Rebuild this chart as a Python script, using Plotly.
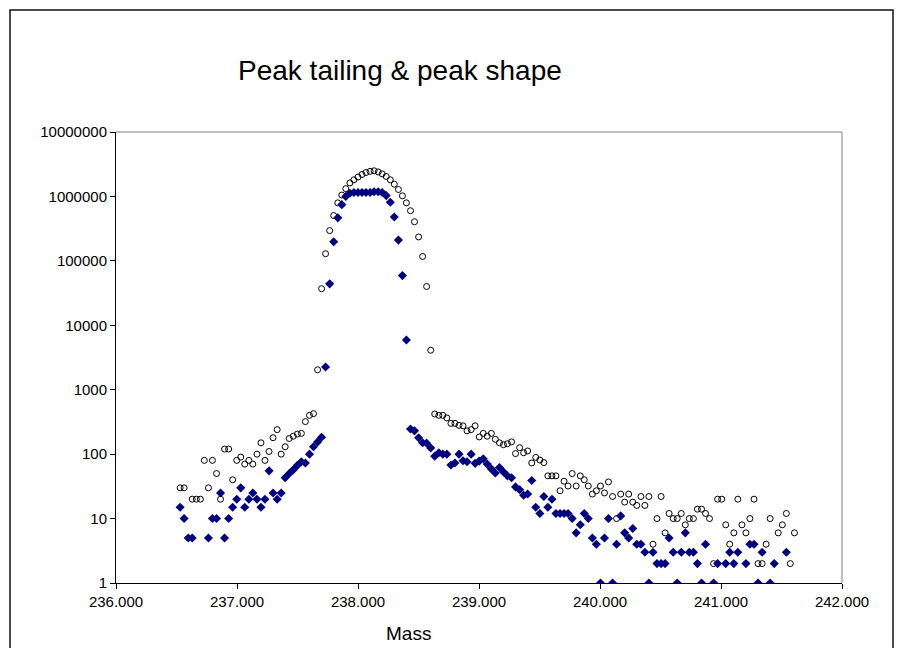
import plotly.graph_objects as go

mass = [
    236.530, 236.563, 236.597, 236.630, 236.664, 236.697, 236.730, 236.764, 236.797, 236.831,
    236.864, 236.897, 236.931, 236.964, 236.998, 237.031, 237.064, 237.098, 237.131, 237.165,
    237.198, 237.231, 237.265, 237.298, 237.332, 237.365, 237.398, 237.432, 237.465, 237.499,
    237.532, 237.565, 237.599, 237.632, 237.666, 237.699, 237.732, 237.766, 237.799, 237.833,
    237.866, 237.899, 237.933, 237.966, 238.000, 238.033, 238.066, 238.100, 238.133, 238.167,
    238.200, 238.233, 238.267, 238.300, 238.334, 238.367, 238.400, 238.434, 238.467, 238.501,
    238.534, 238.567, 238.601, 238.634, 238.668, 238.701, 238.734, 238.768, 238.801, 238.835,
    238.868, 238.901, 238.935, 238.968, 239.002, 239.035, 239.068, 239.102, 239.135, 239.169,
    239.202, 239.235, 239.269, 239.302, 239.336, 239.369, 239.402, 239.436, 239.469, 239.503,
    239.536, 239.569, 239.603, 239.636, 239.670, 239.703, 239.736, 239.770, 239.803, 239.837,
    239.870, 239.903, 239.937, 239.970, 240.004, 240.037, 240.070, 240.104, 240.137, 240.171,
    240.204, 240.237, 240.271, 240.304, 240.338, 240.371, 240.404, 240.438, 240.471, 240.505,
    240.538, 240.571, 240.605, 240.638, 240.672, 240.705, 240.738, 240.772, 240.805, 240.839,
    240.872, 240.905, 240.939, 240.972, 241.006, 241.039, 241.072, 241.106, 241.139, 241.173,
    241.206, 241.239, 241.273, 241.306, 241.340, 241.373, 241.406, 241.440, 241.473, 241.507,
    241.540, 241.573, 241.607,
]

# hollow circle series
circles = [
    30, 30, None, 20, 20, 20, 80, 30, 80, 50,
    20, 120, 120, 40, 80, 90, 70, 80, 70, 100,
    150, 80, 110, 180, 240, 100, 130, 175, 190, 205,
    210, 320, 400, 425, 2040, 37000, 129000, 295000, 505000, 795000,
    1050000, 1320000, 1620000, 1810000, 2000000, 2190000, 2350000, 2450000, 2500000, 2400000,
    2240000, 2040000, 1810000, 1550000, 1280000, 1020000, 795000, 600000, 405000, 235000,
    117000, 40000, 4100, 420, 400, 400, 365, 300, 300, 280,
    275, 230, 240, 275, 185, 210, 190, 210, 170, 150,
    140, 145, 155, 102, 126, 105, 112, 73, 89, 81,
    74, 46, 46, 46, 27, 38, 32, 50, 32, 46,
    40, 32, 24, 27, 32, 25, 37, 22, 10, 24,
    18, 24, 18, 16, 22, 16, 22, 4, 10, 22,
    6, 12, 10, 10, 12, 8, 10, 10, 14, 14,
    12, 10, 2, 20, 20, 8, 4, 6, 20, 8,
    6, 10, 20, 2, 2, 4, 10, None, 6, 8,
    12, 2, 6,
]

# filled diamond series
diamonds = [
    15, 10, 5, 5, None, None, None, 5, 10, 10,
    25, 5, 10, 15, 20, 30, 15, 20, 25, 20,
    15, 20, 55, 25, 20, 25, 43, 50, 57, 67,
    76, 73, 100, 130, 155, 183, 2250, 44000, 198000, 465000,
    745000, 1000000, 1120000, 1150000, 1150000, 1150000, 1150000, 1150000, 1180000, 1180000,
    1150000, 1030000, 810000, 480000, 210000, 59000, 5900, 245, 230, 180,
    150, 148, 125, 93, 105, 100, 100, 68, 73, 100,
    79, 76, 100, 72, 78, 85, 70, 59, 51, 62,
    53, 46, 43, 31, 28, 23, 24, 39, 15, 12,
    22, 15, 20, 12, 12, 12, 12, 10, 6, 8,
    12, 10, 5, 4, 1, 5, 10, 1, 4, 11,
    6, 5, 7, 4, 4, 3, 1, 3, 2, 2,
    2, 5, 3, 1, 3, 6, 3, 3, 2, 1,
    4, None, 1, 2, None, 2, 3, 2, 3, None,
    2, 4, 4, 1, 3, None, 1, 2, None, None,
    3, None, None,
]

x_ticks = [236, 237, 238, 239, 240, 241, 242]
x_tick_text = ["236.000", "237.000", "238.000", "239.000", "240.000", "241.000", "242.000"]
y_ticks = [1, 10, 100, 1000, 10000, 100000, 1000000, 10000000]
y_tick_text = ["1", "10", "100", "1000", "10000", "100000", "1000000", "10000000"]

FONT = "Liberation Sans, Arial, sans-serif"

fig = go.Figure()
fig.add_trace(go.Scatter(
    x=mass, y=circles, mode="markers", name="circles",
    marker=dict(symbol="circle-open", size=6, color="black", line=dict(width=1, color="black")),
))
fig.add_trace(go.Scatter(
    x=mass, y=diamonds, mode="markers", name="diamonds",
    marker=dict(symbol="diamond", size=7, color="#000080", line=dict(width=0)),
))

W, H = 901, 648
L, R, T, B = 116, 842, 132, 583

def px(x):
    return (x - L) / (R - L)

def py(y):
    return (B - y) / (B - T)

fig.update_layout(
    width=W, height=H,
    margin=dict(l=L, r=W - R, t=T, b=H - B, pad=0),
    paper_bgcolor="white", plot_bgcolor="white",
    showlegend=False,
    font=dict(family=FONT, size=15, color="black"),
    xaxis=dict(
        range=[236, 242], tickmode="array", tickvals=x_ticks, ticktext=x_tick_text,
        showgrid=False, zeroline=False, showline=True, linecolor="black", linewidth=1,
        ticks="outside", ticklen=5, tickcolor="black", tickfont=dict(size=15, family=FONT),
    ),
    yaxis=dict(
        type="log", range=[0, 7], tickmode="array", tickvals=y_ticks, ticktext=y_tick_text,
        showgrid=False, zeroline=False, showline=True, linecolor="black", linewidth=1,
        ticks="outside", ticklen=5, tickcolor="black", tickfont=dict(size=15, family=FONT),
    ),
    shapes=[
        # gray plot-area border (top and right)
        dict(type="line", xref="paper", yref="paper", x0=0, x1=1, y0=1, y1=1,
             line=dict(color="#808080", width=1), layer="below"),
        dict(type="line", xref="paper", yref="paper", x0=1, x1=1, y0=0, y1=1,
             line=dict(color="#808080", width=1), layer="below"),
        # outer chart frame
        dict(type="rect", xref="paper", yref="paper",
             x0=px(10), x1=px(893), y0=py(680), y1=py(10),
             line=dict(color="#111111", width=1.5), fillcolor="rgba(0,0,0,0)"),
    ],
    annotations=[
        dict(text="Peak tailing & peak shape", xref="paper", yref="paper",
             x=px(400), y=py(70), xanchor="center", yanchor="middle", showarrow=False,
             font=dict(size=28, family=FONT, color="black")),
        dict(text="Mass", xref="paper", yref="paper",
             x=px(408), y=py(633), xanchor="center", yanchor="middle", showarrow=False,
             font=dict(size=19, family=FONT, color="black")),
    ],
)

fig.write_html("out.html")
